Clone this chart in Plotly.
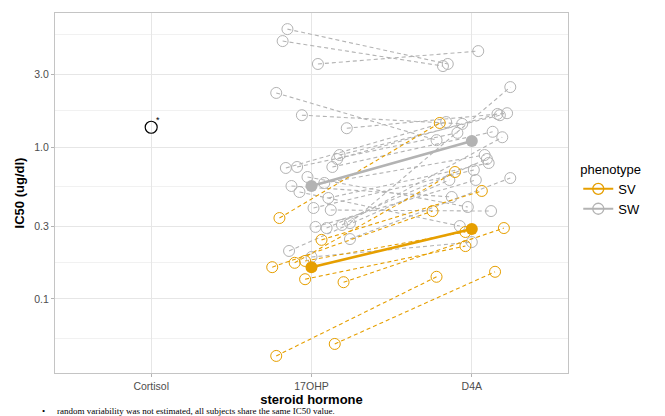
import math
import plotly.graph_objects as go

# ---------------- data ----------------
hormones = ["Cortisol", "17OHP", "D4A"]

# SW subjects: IC50 at 17OHP and D4A, plus per-subject horizontal jitter (category units)
sw_17ohp = [5.97, 4.98, 3.52, 2.27, 1.62, 1.33, 0.886, 0.834, 0.739, 0.728, 0.739, 0.635, 0.554,
            0.506, 0.580, 0.462, 0.397, 0.385, 0.298, 0.293, 0.307, 0.316, 0.248, 0.207, 0.189]
sw_d4a = [3.52, 3.41, 4.28, 1.11, 1.42, 1.67, 1.62, 1.65, 1.26, 1.46, 1.24, 0.403, 0.469,
          0.302, 0.886, 0.785, 0.706, 0.379, 0.607, 0.834, 1.16, 2.48, 0.625, 0.607, 0.237]
sw_jitter = [-0.15, -0.18, 0.04, -0.22, -0.06, 0.22, 0.175, 0.16, 0.13, -0.16, -0.09, -0.025, -0.125,
             -0.075, 0.08, 0.105, 0.0125, 0.12, 0.025, 0.094, 0.19, 0.24, 0.24, -0.14, 0.0]

# SV subjects
sv_17ohp = [0.341, 0.245, 0.162, 0.173, 0.178, 0.135, 0.129, 0.0422, 0.0506]
sv_d4a = [1.44, 0.514, 0.379, 0.685, 0.276, 0.223, 0.293, 0.140, 0.151]
sv_jitter = [-0.20, 0.0625, -0.245, -0.105, -0.04, -0.04, 0.20, -0.22, 0.145]

# population (typical) values
sv_mean = [0.162, 0.289]
sw_mean = [0.554, 1.095]
cortisol_ic50 = [1.35]

caption = "random variability was not estimated, all subjects share the same IC50 value."

# ---------------- styling ----------------
ORANGE = "#E69F00"
GREY = "#B3B3B3"
FONT = "Liberation Sans, Arial, sans-serif"

pos = {h: i + 1 for i, h in enumerate(hormones)}


def pair_lines(v17, vd4, jit):
    xs, ys = [], []
    for a, b, j in zip(v17, vd4, jit):
        xs += [pos["17OHP"] + j, pos["D4A"] + j, None]
        ys += [a, b, None]
    return xs, ys


def points(v17, vd4, jit):
    xs = [pos["17OHP"] + j for j in jit] + [pos["D4A"] + j for j in jit]
    ys = list(v17) + list(vd4)
    return xs, ys


fig = go.Figure()

for v17, vd4, jit, col in [(sw_17ohp, sw_d4a, sw_jitter, GREY), (sv_17ohp, sv_d4a, sv_jitter, ORANGE)]:
    xs, ys = pair_lines(v17, vd4, jit)
    fig.add_trace(go.Scatter(x=xs, y=ys, mode="lines", showlegend=False, hoverinfo="skip",
                             line=dict(color=col, width=1.1, dash="4px,3px")))

for v17, vd4, jit, col in [(sw_17ohp, sw_d4a, sw_jitter, GREY), (sv_17ohp, sv_d4a, sv_jitter, ORANGE)]:
    xs, ys = points(v17, vd4, jit)
    fig.add_trace(go.Scatter(x=xs, y=ys, mode="markers", showlegend=False,
                             marker=dict(symbol="circle-open", size=11, color=col, line=dict(width=1))))

for m, col in [(sw_mean, GREY), (sv_mean, ORANGE)]:
    fig.add_trace(go.Scatter(x=[pos["17OHP"], pos["D4A"]], y=m, mode="lines+markers", showlegend=False,
                             line=dict(color=col, width=2.6),
                             marker=dict(symbol="circle", size=12, color=col)))

# cortisol population value
fig.add_trace(go.Scatter(x=[pos["Cortisol"]], y=cortisol_ic50, mode="markers", showlegend=False,
                         marker=dict(symbol="circle-open", size=12, color="black", line=dict(width=1.2))))
# annotations on a log axis take log10 coordinates
fig.add_annotation(x=pos["Cortisol"], y=math.log10(cortisol_ic50[0]), yref="y", xref="x", text="*",
                   showarrow=False, xshift=7, yshift=7, font=dict(family=FONT, size=9, color="black"))

# legend entries
for name, col in [("SV", ORANGE), ("SW", GREY)]:
    fig.add_trace(go.Scatter(x=[None], y=[None], mode="lines+markers", name=name,
                             line=dict(color=col, width=2),
                             marker=dict(symbol="circle-open", size=11, color=col, line=dict(width=1.3))))

fig.add_annotation(xref="paper", yref="paper", x=-0.023, y=-0.106, text="\u2022", showarrow=False,
                   xanchor="center", yanchor="middle", font=dict(family="Liberation Serif, serif", size=9, color="black"))
fig.add_annotation(xref="paper", yref="paper", x=0.0, y=-0.106, text=caption, showarrow=False,
                   xanchor="left", yanchor="middle", font=dict(family="Liberation Serif, serif", size=9, color="black"))

fig.update_layout(
    width=665, height=416,
    margin=dict(l=55, r=97, t=13, b=43),
    paper_bgcolor="white", plot_bgcolor="white",
    font=dict(family=FONT, color="black"),
    legend=dict(title=dict(text="phenotype", font=dict(size=13, color="black")),
                font=dict(size=13, color="black"), x=1.02, xanchor="left", y=0.6, yanchor="top",
                tracegroupgap=0, itemwidth=30, bgcolor="rgba(0,0,0,0)"),
    xaxis=dict(range=[0.4, 3.6], tickmode="array", tickvals=[pos[h] for h in hormones], ticktext=hormones,
               showgrid=True, gridcolor="#E6E6E6", gridwidth=1, zeroline=False,
               showline=True, mirror=True, linecolor="#C4C4C4", linewidth=1,
               ticks="outside", ticklen=3, tickcolor="#B3B3B3",
               tickfont=dict(size=10.5, color="#4D4D4D"),
               title=dict(text="<b>steroid hormone</b>", font=dict(size=13, color="black"), standoff=4)),
    yaxis=dict(type="log", range=[-1.487, 0.882], tickmode="array", tickvals=[0.1, 0.3, 1, 3],
               ticktext=["0.1", "0.3", "1.0", "3.0"],
               showgrid=True, gridcolor="#E6E6E6", gridwidth=1, zeroline=False,
               minor=dict(tickmode="array", tickvals=[0.0548, 0.173, 0.548, 1.73, 5.48],
                          showgrid=True, gridcolor="#F1F1F1", gridwidth=0.6, ticks=""),
               showline=True, mirror=True, linecolor="#C4C4C4", linewidth=1,
               ticks="outside", ticklen=3, tickcolor="#B3B3B3",
               tickfont=dict(size=10.5, color="#4D4D4D"),
               title=dict(text="<b>IC50 (ug/dl)</b>", font=dict(size=13, color="black"), standoff=6)),
)

fig.write_html("out.html")
